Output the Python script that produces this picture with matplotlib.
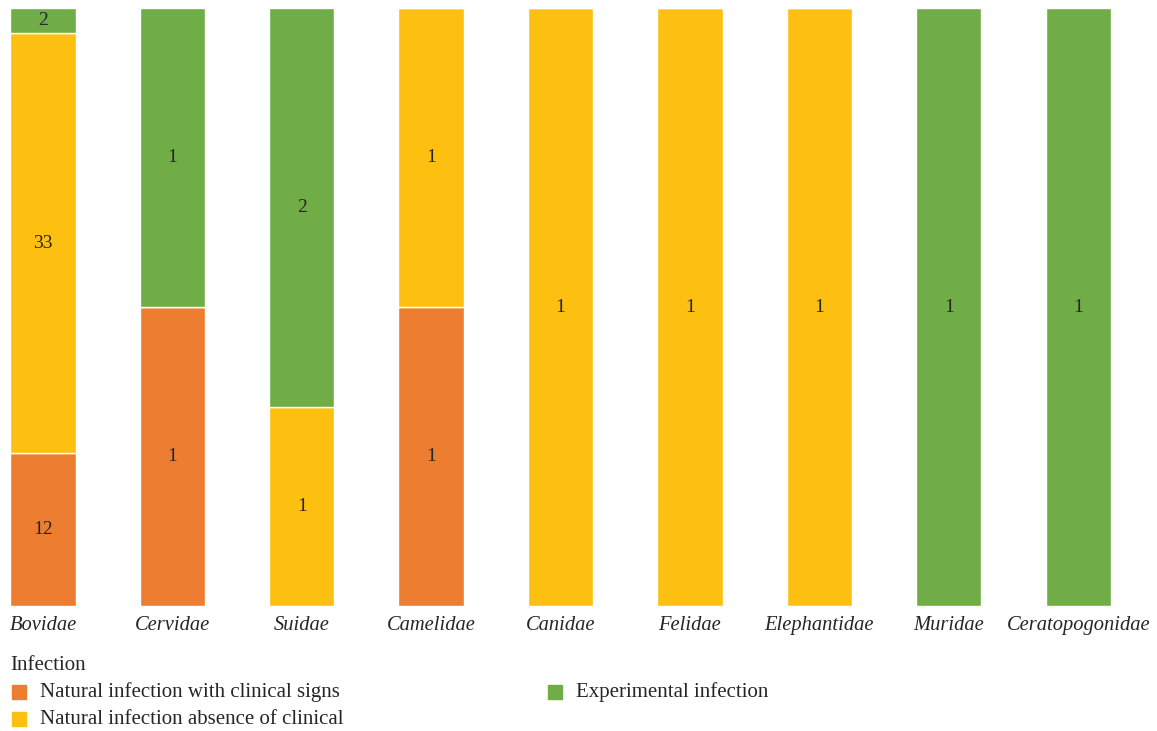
import numpy as np
import matplotlib.pyplot as plt
from matplotlib.patches import Rectangle

plt.rcParams['font.family'] = ['Liberation Serif', 'DejaVu Serif']

families = ['Bovidae', 'Cervidae', 'Suidae', 'Camelidae', 'Canidae',
            'Felidae', 'Elephantidae', 'Muridae', 'Ceratopogonidae']
clinical = [12, 1, 0, 1, 0, 0, 0, 0, 0]
subclinical = [33, 0, 1, 1, 1, 1, 1, 0, 0]
experimental = [2, 1, 2, 0, 0, 0, 0, 1, 1]

series = [
    ('Natural infection with clinical signs', clinical, '#ED7D31'),
    ('Natural infection absence of clinical', subclinical, '#FDC010'),
    ('Experimental infection', experimental, '#70AD47'),
]

W, H = 1157, 731
fig = plt.figure(figsize=(W / 100, H / 100), dpi=100)
ax = fig.add_axes([0, (H - 606) / H, 1, 598 / H])

x = np.arange(len(families))
totals = np.array(clinical) + np.array(subclinical) + np.array(experimental)
bottom = np.zeros(len(families))
for name, vals, col in series:
    frac = np.array(vals) / totals
    ax.bar(x, frac, 0.505, bottom=bottom, color=col, edgecolor='white', linewidth=1)
    for i, v in enumerate(vals):
        if v > 0:
            ax.text(x[i], bottom[i] + frac[i] / 2, str(v), ha='center', va='center',
                    fontsize=14, color='#262626')
    bottom += frac

ax.set_xlim(-0.332, 8.609)
ax.set_ylim(0, 1)
ax.set_xticks(x)
ax.set_xticklabels(families, fontstyle='italic', fontsize=14.8, color='#262626')
ax.tick_params(axis='x', length=0, pad=7)
ax.set_yticks([])
for s in ax.spines.values():
    s.set_visible(False)

# legend drawn by hand in pixel positions
fig.text(10 / W, 1 - 665 / H, 'Infection', fontsize=15, color='#262626',
         ha='left', va='center')
spots = [(12, 692), (12, 719), (548, 692)]
for (px, py), (name, vals, col) in zip(spots, series):
    fig.add_artist(Rectangle((px / W, 1 - (py + 7) / H), 14 / W, 14 / H,
                             transform=fig.transFigure, color=col))
    fig.text((px + 28) / W, 1 - py / H, name, fontsize=15, color='#262626',
             ha='left', va='center')

fig.savefig('out.png', dpi=100)
